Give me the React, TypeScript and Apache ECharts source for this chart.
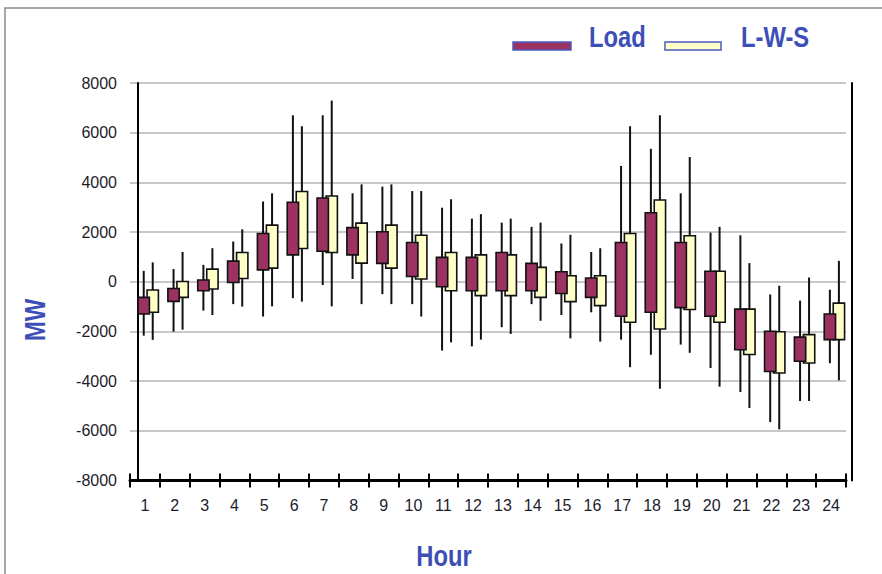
import React, { useEffect, useRef } from "react";
import * as echarts from "echarts";

const hours = ["1","2","3","4","5","6","7","8","9","10","11","12","13","14","15","16","17","18","19","20","21","22","23","24"];

// Load: whisker high, box top, box bottom, whisker low
const loadHigh = [440, 510, 680, 1620, 3230, 6700, 6700, 3560, 3830, 3650, 2980, 2540, 2380, 2210, 1540, 1200, 4660, 5350, 3560, 1980, 1870, -510, -760, -320];
const loadTop = [-630, -270, 70, 830, 1940, 3200, 3370, 2180, 2010, 1580, 980, 980, 1180, 740, 400, 150, 1580, 2780, 1580, 420, -1100, -1990, -2230, -1300];
const loadBottom = [-1300, -790, -360, -30, 480, 1080, 1230, 1080, 740, 210, -200, -360, -360, -360, -470, -630, -1390, -1230, -1040, -1390, -2740, -3610, -3200, -2330];
const loadLow = [-2170, -2010, -1160, -900, -1400, -660, -130, 110, -500, -900, -2770, -2600, -1830, -900, -1340, -1230, -2330, -2940, -2530, -3470, -4440, -5650, -4800, -3280];

// L-W-S: whisker high, box top, box bottom, whisker low
const lwsHigh = [780, 1200, 1350, 2110, 3560, 6260, 7290, 3920, 3920, 3650, 3320, 2720, 2540, 2380, 1890, 1350, 6260, 6700, 5020, 2210, 750, -160, 170, 840];
const lwsTop = [-330, 10, 510, 1180, 2280, 3630, 3450, 2360, 2280, 1870, 1180, 1080, 1080, 580, 240, 240, 1940, 3290, 1850, 420, -1100, -2010, -2130, -860];
const lwsBottom = [-1230, -630, -290, 130, 550, 1340, 1180, 750, 550, 110, -360, -560, -560, -630, -800, -960, -1630, -1900, -1120, -1630, -2930, -3670, -3270, -2330];
const lwsLow = [-2340, -1930, -1340, -1000, -990, -800, -990, -900, -900, -1400, -2440, -2330, -2100, -1570, -2280, -2410, -3440, -4310, -2860, -4220, -5080, -5940, -4800, -3970];

const seriesNames = ["Load", "L-W-S"];
const xTitle = "Hour";
const yTitle = "MW";

const LOAD_COLOR = "#9b3262";
const LWS_COLOR = "#ffffc8";
const BLUE = "#3d4fb6";
const SWATCH_BORDER = "#4a5cc0";
const BOLD_FONT = "bold 29px 'Liberation Sans', Arial, sans-serif";
const REG = "'Liberation Sans', Arial, sans-serif";
const NARROW_SCALE = 0.82;

function makeRender(offsetFrac: number, widthFrac: number, fill: string) {
  return (params: any, api: any) => {
    const idx = api.value(0);
    const band = api.size([1, 0])[0];
    const cx = api.coord([idx, 0])[0] + band * offsetFrac;
    const yLow = api.coord([idx, api.value(1)])[1];
    const yB = api.coord([idx, api.value(2)])[1];
    const yT = api.coord([idx, api.value(3)])[1];
    const yHigh = api.coord([idx, api.value(4)])[1];
    const w = band * widthFrac;
    const top = Math.min(yB, yT);
    const h = Math.abs(yB - yT);
    return {
      type: "group",
      children: [
        { type: "line", shape: { x1: cx, y1: yHigh, x2: cx, y2: yLow }, style: { stroke: "#111", lineWidth: 2 } },
        { type: "rect", shape: { x: cx - w / 2, y: top, width: w, height: h }, style: { fill, stroke: "#111", lineWidth: 1.6 } },
      ],
    };
  };
}

export default function App() {
  const ref = useRef<HTMLDivElement>(null);
  useEffect(() => {
    if (!ref.current) return;
    const chart = echarts.init(ref.current, null, { renderer: "svg" });
    const loadData = hours.map((_, i) => [i, loadLow[i], loadBottom[i], loadTop[i], loadHigh[i]]);
    const lwsData = hours.map((_, i) => [i, lwsLow[i], lwsBottom[i], lwsTop[i], lwsHigh[i]]);
    const narrowText = (text: string, x: number, y: number, align: string, rotation = 0) => ({
      type: "text",
      x,
      y,
      rotation,
      scaleX: NARROW_SCALE,
      silent: true,
      style: { text, font: BOLD_FONT, fill: BLUE, align, verticalAlign: "middle" },
    });
    chart.setOption({
      animation: false,
      backgroundColor: "#fff",
      grid: { left: 130, top: 83, width: 716, height: 397.5 },
      graphic: [
        { type: "rect", shape: { x: 5, y: 8, width: 1000, height: 1000 }, style: { fill: "none", stroke: "#8a8a8a", lineWidth: 1.5 }, silent: true },
        // legend
        { type: "rect", shape: { x: 513, y: 42, width: 58, height: 8 }, style: { fill: LOAD_COLOR, stroke: SWATCH_BORDER, lineWidth: 1.5 }, silent: true },
        narrowText(seriesNames[0], 589, 37.5, "left"),
        { type: "rect", shape: { x: 665, y: 42, width: 56, height: 8 }, style: { fill: LWS_COLOR, stroke: SWATCH_BORDER, lineWidth: 1.5 }, silent: true },
        narrowText(seriesNames[1], 741, 37.5, "left"),
        // axis titles
        narrowText(xTitle, 444, 556, "center"),
        narrowText(yTitle, 35, 320, "center", Math.PI / 2),
      ],
      xAxis: [
        {
          type: "category",
          data: hours,
          boundaryGap: true,
          axisLine: { onZero: false, lineStyle: { color: "#000", width: 3 } },
          axisTick: { show: true, length: 7, lineStyle: { color: "#000", width: 2 } },
          axisLabel: { margin: 17, fontSize: 16, fontFamily: REG, color: "#1c1c2c" },
        },
        {
          type: "category",
          data: hours,
          position: "bottom",
          boundaryGap: true,
          axisLine: { show: false, onZero: false },
          axisTick: { show: true, inside: true, length: 7, lineStyle: { color: "#000", width: 2 } },
          axisLabel: { show: false },
        },
      ],
      yAxis: [
        {
          type: "value",
          min: -8000,
          max: 8000,
          interval: 2000,
          offset: -8,
          axisLine: { show: true, lineStyle: { color: "#000", width: 2 } },
          axisTick: { show: false },
          axisLabel: { margin: 21, fontSize: 16, fontFamily: REG, color: "#1c1c2c", formatter: (v: number) => String(v) },
          splitLine: { show: true, lineStyle: { color: "#c8c8c8", width: 2 } },
        },
        {
          type: "value",
          position: "right",
          min: -8000,
          max: 8000,
          interval: 2000,
          offset: 6,
          axisLine: { show: true, lineStyle: { color: "#000", width: 2 } },
          axisTick: { show: false },
          axisLabel: { show: false },
          splitLine: { show: false },
        },
      ],
      series: [
        {
          name: seriesNames[1],
          type: "custom",
          xAxisIndex: 0,
          yAxisIndex: 0,
          itemStyle: { color: LWS_COLOR },
          renderItem: makeRender(0.262, 0.38, LWS_COLOR),
          encode: { x: 0, y: [1, 2, 3, 4] },
          data: lwsData,
        },
        {
          name: seriesNames[0],
          type: "custom",
          xAxisIndex: 0,
          yAxisIndex: 0,
          itemStyle: { color: LOAD_COLOR },
          renderItem: makeRender(-0.04, 0.38, LOAD_COLOR),
          encode: { x: 0, y: [1, 2, 3, 4] },
          data: loadData,
        },
      ],
    });
    return () => chart.dispose();
  }, []);
  return <div ref={ref} style={{ position: "fixed", left: 0, top: 0, width: 882, height: 574 }} />;
}
